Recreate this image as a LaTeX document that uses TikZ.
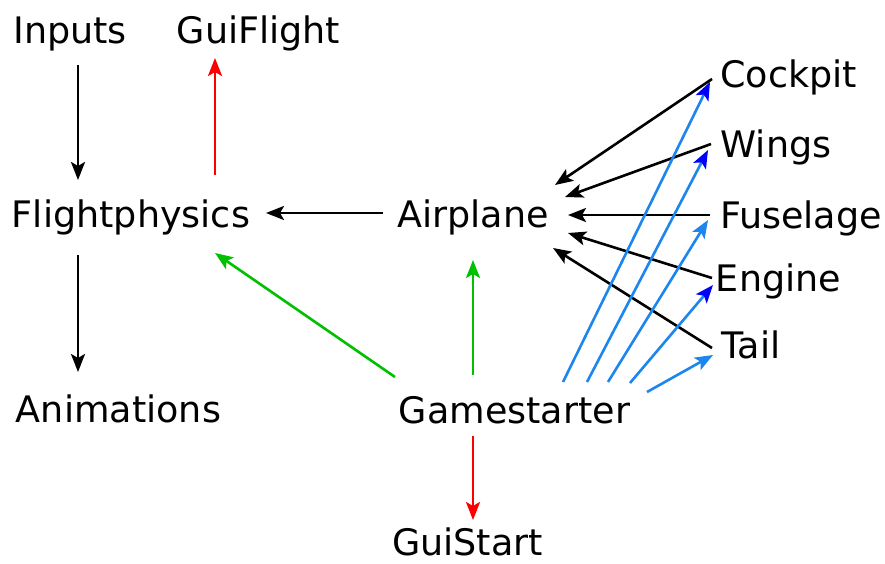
\documentclass[tikz,border=0pt]{standalone}
\usepackage{fontspec}
\setmainfont{DejaVu Sans}
\usetikzlibrary{arrows.meta,calc}
\definecolor{linkblue}{HTML}{1C86EE}
\definecolor{headblue}{HTML}{0000FF}
\definecolor{linkgreen}{HTML}{00C000}
\definecolor{linkred}{HTML}{FF0000}
\tikzset{
  module/.style={font=\fontsize{36.5}{44}\selectfont, inner sep=0pt, anchor=base},
  link/.style={line width=2.6pt, -{Stealth[length=18pt,width=14pt,inset=4pt]}},
  bluelink/.style={link, draw=linkblue},
  darkhead/.style={-{Stealth[length=18pt,width=14pt,inset=4pt,color=headblue]}},
}
\begin{document}
\begin{tikzpicture}[x=1pt,y=-1pt]
  \useasboundingbox (0,0) rectangle (885,563);

  % modules
  \node[module] (inputs)    at (70,43)    {Inputs};
  \node[module] (guiflight) at (258.5,43) {GuiFlight};
  \node[module] (flight)    at (131,227)  {Flightphysics};
  \node[module] (airplane)  at (473,227)  {Airplane};
  \node[module] (anim)      at (118.5,422){Animations};
  \node[module] (game)      at (514.5,423){Gamestarter};
  \node[module] (guistart)  at (467.5,555){GuiStart};
  \node[module] (cockpit)   at (788.5,87) {Cockpit};
  \node[module] (wings)     at (776,157)  {Wings};
  \node[module] (fuselage)  at (801,228)  {Fuselage};
  \node[module] (engine)    at (778.5,291){Engine};
  \node[module] (tail)      at (751,358)  {Tail};

  % data flow around the flight physics
  \draw[link] ($(inputs.base)+(8,22)$) -- ($(flight.base)+(-53,-47)$);
  \draw[link, draw=linkred] ($(flight.base)+(84,-52)$) -- ($(guiflight.base)+(-43.5,15)$);
  \draw[link] ($(flight.base)+(-53,28)$) -- ($(anim.base)+(-40.5,-50)$);
  \draw[link] ($(airplane.base)+(-90,-14)$) -- ($(flight.base)+(135,-14)$);

  % game starter
  \draw[link, draw=linkgreen] ($(game.base)+(-119.5,-46)$) -- ($(flight.base)+(84,26)$);
  \draw[link, draw=linkgreen] ($(game.base)+(-41.5,-48)$) -- ($(airplane.base)+(0,33)$);
  \draw[link, draw=linkred] ($(game.base)+(-41.5,13)$) -- ($(guistart.base)+(5.5,-35)$);

  % airplane parts
  \draw[link] ($(cockpit.base)+(-76.5,-8)$) -- ($(airplane.base)+(82,-42)$);
  \draw[link] ($(wings.base)+(-65,-13)$) -- ($(airplane.base)+(92,-30)$);
  \draw[link] ($(fuselage.base)+(-91,-13)$) -- ($(airplane.base)+(95,-12)$);
  \draw[link] ($(engine.base)+(-66.5,-13)$) -- ($(airplane.base)+(95,6)$);
  \draw[link] ($(tail.base)+(-39,-10)$) -- ($(airplane.base)+(80,21)$);

  \draw[bluelink, darkhead] ($(game.base)+(48.5,-41)$) -- ($(cockpit.base)+(-78.5,-5)$);
  \draw[bluelink, darkhead] ($(game.base)+(72.5,-41)$) -- ($(wings.base)+(-68,-7)$);
  \draw[bluelink] ($(game.base)+(93.5,-41)$) -- ($(fuselage.base)+(-93,-8)$);
  \draw[bluelink, darkhead] ($(game.base)+(115.5,-40)$) -- ($(engine.base)+(-65.5,-6)$);
  \draw[bluelink] ($(game.base)+(132.5,-31)$) -- ($(tail.base)+(-38,-3)$);
\end{tikzpicture}
\end{document}
